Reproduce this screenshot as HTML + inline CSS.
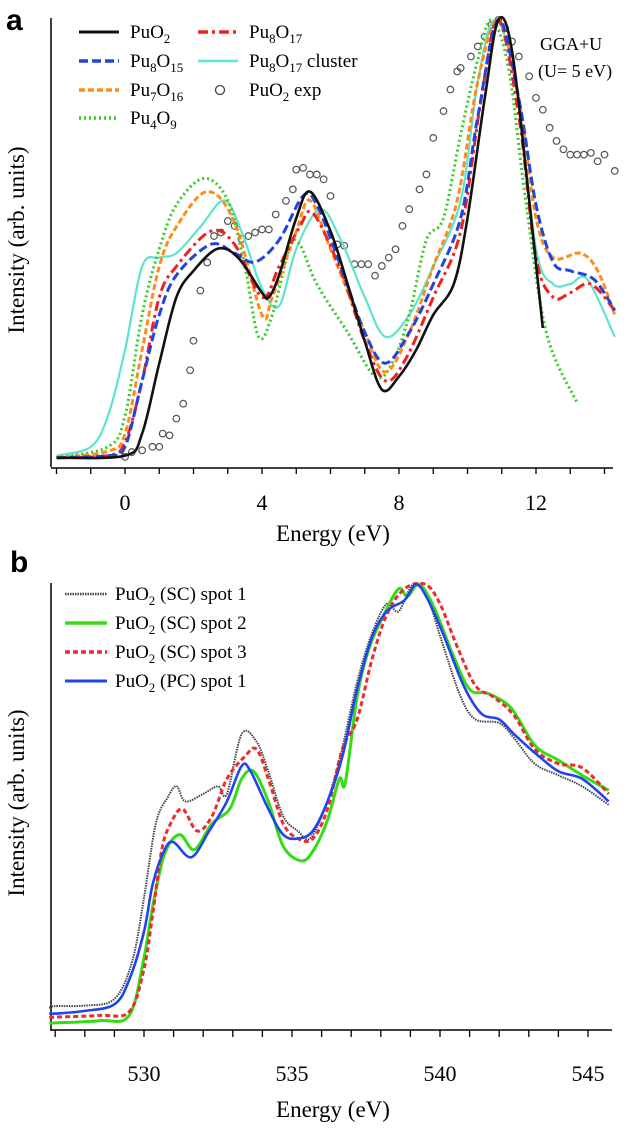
<!DOCTYPE html>
<html><head><meta charset="utf-8"><style>
html,body{margin:0;padding:0;background:#fff;}
svg{display:block;font-family:"Liberation Serif",serif;}
</style></head><body>
<svg width="633" height="1129" viewBox="0 0 633 1129" id="fig">
<text x="6" y="30" font-family="Liberation Sans,sans-serif" font-weight="bold" font-size="30">a</text>
<text x="10" y="572" font-family="Liberation Sans,sans-serif" font-weight="bold" font-size="30">b</text>
<g id="pa"></g>
<g id="pb"></g>
</svg>
<script>
// ---------- Panel a data ----------
const aXTicks = [0, 4, 8, 12];
const aPuO2 = [[-2,0.005],[0,0.01],[0.5,0.06],[1,0.22],[1.5,0.37],[2,0.43],[2.7,0.48],[3.3,0.46],[4,0.38],[4.2,0.37],[4.5,0.42],[5,0.55],[5.4,0.61],[6,0.52],[6.5,0.40],[7,0.27],[7.5,0.16],[8,0.19],[8.5,0.25],[9,0.33],[9.6,0.40],[10,0.55],[10.5,0.82],[10.9,1.0],[11.3,0.93],[11.8,0.59],[12.2,0.30]];
const aPu8O15 = [[-2,0.005],[-0.5,0.01],[0,0.03],[0.5,0.18],[1,0.33],[1.5,0.42],[2.5,0.49],[3.2,0.47],[3.8,0.45],[4.5,0.50],[5.2,0.60],[5.6,0.58],[6.3,0.44],[7,0.29],[7.6,0.22],[8.3,0.29],[9,0.40],[9.8,0.55],[10.3,0.78],[10.9,1.0],[11.5,0.82],[12,0.58],[12.5,0.45],[13,0.43],[13.7,0.41],[14.3,0.34]];
const aPu7O16 = [[-2,0.005],[-0.5,0.02],[0,0.06],[0.5,0.25],[1,0.44],[1.5,0.53],[2.4,0.61],[3.2,0.54],[4,0.33],[4.3,0.37],[5,0.52],[5.4,0.59],[6,0.48],[7,0.29],[7.6,0.20],[8.3,0.29],[9,0.44],[9.7,0.59],[10.3,0.86],[10.9,1.0],[11.5,0.82],[12,0.55],[12.5,0.46],[13.3,0.47],[13.8,0.43],[14.3,0.33]];
const aPu4O9 = [[-2,0.005],[-0.5,0.03],[0,0.10],[0.5,0.33],[1,0.48],[1.5,0.58],[2.3,0.64],[3,0.59],[3.5,0.44],[3.9,0.28],[4.3,0.33],[4.8,0.48],[5.1,0.49],[5.6,0.40],[6.5,0.29],[7.3,0.19],[7.8,0.22],[8.3,0.33],[8.8,0.50],[9.3,0.55],[9.8,0.74],[10.3,0.91],[10.7,1.0],[11.2,0.89],[11.7,0.59],[12.3,0.29],[13.2,0.13]];
const aPu8O17 = [[-2,0.005],[-0.5,0.01],[0,0.04],[0.5,0.18],[1,0.37],[1.5,0.44],[2.5,0.52],[3.2,0.49],[4,0.37],[4.5,0.44],[5.1,0.53],[5.5,0.56],[6.3,0.43],[7,0.27],[7.6,0.18],[8.2,0.23],[9,0.37],[9.8,0.52],[10.4,0.82],[10.9,1.0],[11.5,0.78],[12,0.46],[12.5,0.37],[13,0.38],[13.6,0.40],[14.3,0.34]];
const aCluster = [[-2,0.01],[-1,0.03],[-0.5,0.10],[0,0.25],[0.5,0.44],[1,0.46],[1.5,0.47],[2.2,0.53],[2.9,0.59],[3.4,0.52],[4,0.39],[4.5,0.35],[5,0.48],[5.7,0.57],[6.3,0.50],[7,0.37],[7.6,0.28],[8.3,0.33],[9,0.44],[9.8,0.59],[10.3,0.86],[10.8,1.0],[11.4,0.86],[12,0.48],[12.5,0.40],[13,0.40],[13.5,0.41],[14.3,0.28]];
const aExpE = [0,0.2,0.5,0.8,1.0,1.1,1.3,1.5,1.7,1.9,2.0,2.2,2.4,2.6,2.8,3.0,3.2,3.4,3.6,3.8,4.0,4.2,4.4,4.7,4.9,5.0,5.2,5.4,5.6,5.8,6.0,6.2,6.4,6.7,6.9,7.1,7.3,7.5,7.7,7.9,8.1,8.3,8.6,8.8,9.0,9.3,9.5,9.7,9.8,10.1,10.3,10.5,10.7,10.9,11.1,11.3,11.5,11.8,12.0,12.2,12.4,12.6,12.8,13.0,13.2,13.4,13.6,13.8,14.0,14.3];
const aExpI = [0.007,0.018,0.022,0.030,0.030,0.060,0.056,0.094,0.128,0.204,0.271,0.385,0.449,0.509,0.517,0.543,0.532,0.502,0.509,0.517,0.524,0.524,0.558,0.589,0.615,0.660,0.664,0.649,0.649,0.638,0.600,0.490,0.487,0.445,0.445,0.445,0.419,0.441,0.460,0.479,0.532,0.570,0.615,0.649,0.732,0.793,0.842,0.883,0.891,0.917,0.940,0.962,0.989,1.0,0.981,0.951,0.917,0.872,0.823,0.796,0.755,0.725,0.706,0.694,0.694,0.694,0.698,0.679,0.694,0.657];

// ---------- Panel b data ----------
const bXTicks = [530, 535, 540, 545];
const bSpot1 = [[526.8,0.041],[527,0.045],[528,0.046],[529,0.061],[529.6,0.146],[530,0.289],[530.4,0.457],[530.8,0.516],[531.1,0.541],[531.4,0.507],[532,0.524],[532.5,0.541],[532.8,0.524],[533.3,0.659],[533.8,0.642],[534.2,0.575],[534.7,0.474],[535.2,0.440],[535.6,0.423],[536.1,0.490],[536.6,0.600],[537.2,0.776],[537.7,0.886],[538.2,0.953],[538.6,0.936],[539.1,0.997],[539.6,0.961],[540.1,0.860],[540.7,0.743],[541.2,0.692],[542,0.684],[542.5,0.650],[543.2,0.592],[544,0.566],[544.8,0.541],[545.7,0.499]];
const bSpot2 = [[526.8,0.007],[527,0.007],[528.5,0.012],[529.5,0.024],[530,0.154],[530.3,0.272],[530.7,0.389],[531.2,0.432],[531.7,0.398],[532.3,0.457],[532.9,0.490],[533.3,0.558],[533.7,0.575],[534.2,0.507],[534.7,0.406],[535.3,0.373],[535.7,0.394],[536.2,0.465],[536.6,0.558],[536.8,0.549],[537.2,0.743],[537.6,0.852],[538.1,0.928],[538.6,0.987],[538.9,0.970],[539.3,0.997],[539.8,0.945],[540.4,0.844],[541,0.760],[541.6,0.751],[542.4,0.718],[543.2,0.634],[544,0.600],[544.8,0.566],[545.7,0.532]];
const bSpot3 = [[526.8,0.020],[527,0.020],[528.5,0.024],[529.5,0.032],[530,0.129],[530.3,0.255],[530.6,0.398],[530.9,0.457],[531.3,0.490],[531.8,0.440],[532.3,0.474],[532.8,0.558],[533.4,0.608],[533.8,0.625],[534.2,0.558],[534.7,0.457],[535.2,0.423],[535.7,0.423],[536.2,0.490],[536.7,0.625],[537.2,0.692],[537.7,0.827],[538.2,0.928],[538.8,0.987],[539.5,0.997],[540,0.953],[540.6,0.853],[541.2,0.768],[541.8,0.743],[542.5,0.701],[543.2,0.625],[544,0.592],[544.8,0.583],[545.7,0.524]];
const bPC1 = [[526.8,0.028],[527,0.028],[528,0.034],[529,0.049],[529.5,0.104],[530,0.213],[530.3,0.322],[530.7,0.398],[531,0.415],[531.6,0.381],[532.2,0.440],[532.8,0.507],[533.3,0.587],[533.6,0.575],[534.2,0.490],[534.7,0.432],[535.2,0.423],[535.7,0.440],[536.2,0.507],[536.7,0.608],[537.2,0.760],[537.7,0.877],[538.2,0.936],[538.8,0.961],[539.2,0.997],[539.6,0.961],[540.1,0.886],[540.8,0.768],[541.4,0.705],[542,0.692],[542.5,0.659],[543.2,0.617],[544,0.575],[544.8,0.558],[545.7,0.507]];

const NS = 'http://www.w3.org/2000/svg';
function mk(parent, tag, attrs) { const e = document.createElementNS(NS, tag); for (const k in attrs) e.setAttribute(k, attrs[k]); parent.appendChild(e); return e; }
function smooth(pts) {
  let d = 'M' + pts[0][0].toFixed(1) + ',' + pts[0][1].toFixed(1);
  for (let i = 0; i < pts.length - 1; i++) {
    const p0 = pts[Math.max(0, i - 1)], p1 = pts[i], p2 = pts[i + 1], p3 = pts[Math.min(pts.length - 1, i + 2)];
    const c1x = p1[0] + (p2[0] - p0[0]) / 6, c1y = p1[1] + (p2[1] - p0[1]) / 6;
    const c2x = p2[0] - (p3[0] - p1[0]) / 6, c2y = p2[1] - (p3[1] - p1[1]) / 6;
    d += 'C' + c1x.toFixed(1) + ',' + c1y.toFixed(1) + ' ' + c2x.toFixed(1) + ',' + c2y.toFixed(1) + ' ' + p2[0].toFixed(1) + ',' + p2[1].toFixed(1);
  }
  return d;
}

// ---------- Panel a ----------
const pa = document.getElementById('pa');
const ax = e => 125 + e * 34.25;
const ay = v => 460 - v * 440;
let el;
el = mk(pa, 'line', {x1: 51, y1: 18, x2: 51, y2: 467, stroke: '#000', 'stroke-width': 1.5});


el = mk(pa, 'line', {x1: 51, y1: 468, x2: 613, y2: 468, stroke: '#000', 'stroke-width': 1.5});


for (let e = -2; e <= 14; e++) {
  el = mk(pa, 'line', {x1: ax(e), y1: 468, x2: ax(e), y2: 474, stroke: '#000', 'stroke-width': 1.3});
  
  
}
aXTicks.forEach(t => {
  el = mk(pa, 'text', {x: ax(t), y: 510, 'text-anchor': 'middle', 'font-size': 22});
  el.textContent = t;
  
  
});
el = mk(pa, 'text', {x: 333, y: 541, 'text-anchor': 'middle', 'font-size': 23});
el.textContent = 'Energy (eV)';


el = mk(pa, 'text', {x: 0, y: 0, 'text-anchor': 'middle', 'font-size': 23, transform: 'translate(24,240) rotate(-90)'});
el.textContent = 'Intensity (arb. units)';



// exp circles
aExpE.forEach((e, i) => {
  el = mk(pa, 'circle', {cx: ax(e), cy: ay(aExpI[i]), r: 3.3, fill: 'none', stroke: '#555', 'stroke-width': 1.2});
  
  
});
const aSeries = [
  {d: aCluster, c: '#5fe3cc', w: 2.2, dash: '', name: 'pu8o17-cluster-line', label: ['Pu', '8', 'O', '17', ' cluster']},
  {d: aPu4O9, c: '#33cc22', w: 3, dash: '2,3', name: 'pu4o9-line', label: ['Pu', '4', 'O', '9', '']},
  {d: aPu7O16, c: '#ff8c1a', w: 3, dash: '6,3', name: 'pu7o16-line', label: ['Pu', '7', 'O', '16', '']},
  {d: aPu8O17, c: '#ee2222', w: 3, dash: '10,4,3,4', name: 'pu8o17-line', label: ['Pu', '8', 'O', '17', '']},
  {d: aPu8O15, c: '#2244dd', w: 3, dash: '9,4', name: 'pu8o15-line', label: ['Pu', '8', 'O', '15', '']},
  {d: aPuO2, c: '#111', w: 2.6, dash: '', name: 'puo2-line', label: ['PuO', '2', '', '', '']}
];
aSeries.forEach(s => {
  el = mk(pa, 'path', {d: smooth(s.d.map(p => [ax(p[0]), ay(p[1])])), fill: 'none', stroke: s.c, 'stroke-width': s.w, 'stroke-dasharray': s.dash});
  
  
});
// legend a
function legText(parent, x, y, parts, size, name) {
  const t = mk(parent, 'text', {x: x, y: y, 'font-size': size});
  
  
  const [a, b, c, d, e] = parts;
  const add = (txt, sub) => { if (!txt) return; const ts = mk(t, 'tspan', sub ? {'font-size': size * 0.68, dy: 5} : {dy: 0}); ts.textContent = txt; return ts; };
  add(a, false); let s1 = add(b, true);
  if (c) { const ts = mk(t, 'tspan', {dy: -5}); ts.textContent = c; add(d, true); }
  if (e) { const ts = mk(t, 'tspan', {dy: -5}); ts.textContent = e; }
  else if (!c && b) { }
  return t;
}
const legA = mk(pa, 'g', {});


const legAItems = [
  [79, 38, aSeries[5]], [79, 67, aSeries[4]], [79, 96, aSeries[2]], [79, 124, aSeries[1]],
  [198, 38, aSeries[3]], [198, 67, aSeries[0]]
];
legAItems.forEach(it => {
  const [x, y, s] = it;
  el = mk(legA, 'line', {x1: x, y1: y - 6, x2: x + 40, y2: y - 6, stroke: s.c, 'stroke-width': s.w + 0.4, 'stroke-dasharray': s.dash});
  
  
  legText(legA, x + 51, y, s.label, 19, 'legend-entry');
});
el = mk(legA, 'circle', {cx: 220, cy: 90, r: 4.5, fill: 'none', stroke: '#444', 'stroke-width': 1.3});


legText(legA, 249, 96, ['PuO', '2', ' exp', '', ''], 19, 'legend-entry');
el = mk(pa, 'text', {x: 540, y: 50, 'font-size': 18});
el.textContent = 'GGA+U';


el = mk(pa, 'text', {x: 538, y: 77, 'font-size': 18});
el.textContent = '(U= 5 eV)';



// ---------- Panel b ----------
const pb = document.getElementById('pb');
const bx = e => 144 + (e - 530) * 29.6;
const by = v => 1026 - v * 443;
el = mk(pb, 'line', {x1: 51, y1: 583, x2: 51, y2: 1031, stroke: '#000', 'stroke-width': 1.5});


el = mk(pb, 'line', {x1: 51, y1: 1030, x2: 612, y2: 1030, stroke: '#000', 'stroke-width': 1.5});


for (let e = 527; e <= 545; e++) {
  el = mk(pb, 'line', {x1: bx(e), y1: 1030, x2: bx(e), y2: 1037, stroke: '#000', 'stroke-width': 1.3});
  
  
}
bXTicks.forEach(t => {
  el = mk(pb, 'text', {x: bx(t), y: 1081, 'text-anchor': 'middle', 'font-size': 22});
  el.textContent = t;
  
  
});
el = mk(pb, 'text', {x: 333, y: 1117, 'text-anchor': 'middle', 'font-size': 23});
el.textContent = 'Energy (eV)';


el = mk(pb, 'text', {x: 0, y: 0, 'text-anchor': 'middle', 'font-size': 23, transform: 'translate(24,803) rotate(-90)'});
el.textContent = 'Intensity (arb. units)';


const bSeries = [
  {d: bSpot1, c: '#444', w: 2, dash: '1.5,1', name: 'sc-spot1-line', label: ['PuO', '2', ' (SC) spot 1', '', '']},
  {d: bSpot2, c: '#33dd11', w: 3, dash: '', name: 'sc-spot2-line', label: ['PuO', '2', ' (SC) spot 2', '', '']},
  {d: bSpot3, c: '#ee2a2a', w: 3, dash: '5,3', name: 'sc-spot3-line', label: ['PuO', '2', ' (SC) spot 3', '', '']},
  {d: bPC1, c: '#2244ee', w: 2.6, dash: '', name: 'pc-spot1-line', label: ['PuO', '2', ' (PC) spot 1', '', '']}
];
bSeries.forEach(s => {
  el = mk(pb, 'path', {d: smooth(s.d.map(p => [bx(p[0]), by(p[1])])), fill: 'none', stroke: s.c, 'stroke-width': s.w, 'stroke-dasharray': s.dash});
  
  
});
const legB = mk(pb, 'g', {});


bSeries.forEach((s, i) => {
  const y = 600 + i * 29;
  el = mk(legB, 'line', {x1: 65, y1: y - 6, x2: 107, y2: y - 6, stroke: s.c, 'stroke-width': s.w + 0.4, 'stroke-dasharray': s.dash});
  
  
  legText(legB, 115, y, s.label, 19, 'legend-entry');
});
</script>
</body></html>
